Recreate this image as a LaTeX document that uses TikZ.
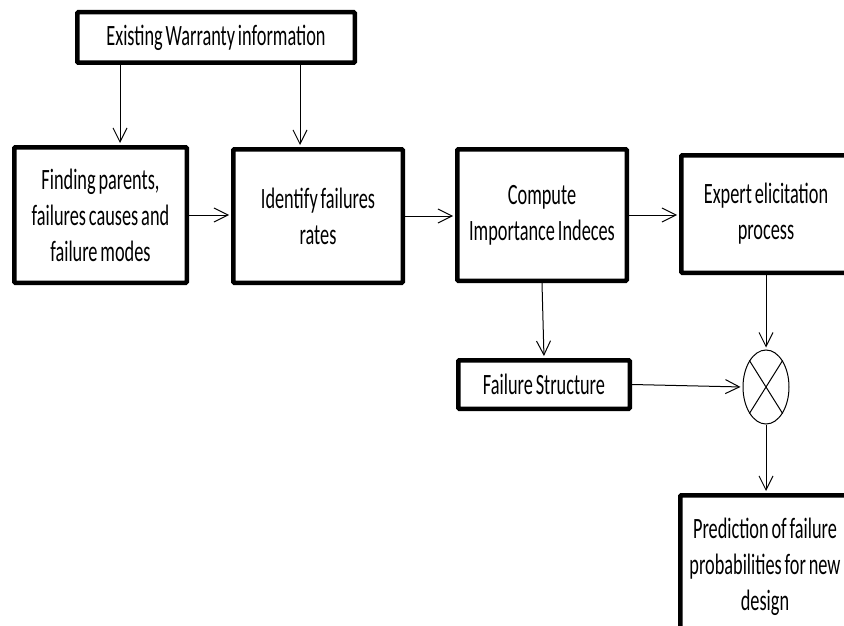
\documentclass[tikz,border=0pt]{standalone}
\usepackage{fontspec}
\setmainfont[FakeStretch=0.62,WordSpace=0.7]{Carlito}
\usetikzlibrary{arrows.meta,shapes.geometric}
\begin{document}
\begin{tikzpicture}[x=1pt,y=-1pt,
  block/.style={draw, line width=4.5pt, rounded corners=1pt, align=center, inner sep=0pt,
    font=\fontsize{29.5}{36}\selectfont},
  flow/.style={line width=1pt, shorten >=2pt,
    -{Straight Barb[length=14pt,width=14pt,line width=1pt]}},
  mixer/.style={draw, ellipse, line width=1pt, inner sep=0pt,
    minimum width=46pt, minimum height=74pt}]
\useasboundingbox (0,0) rectangle (844,626);
\clip (0,0) rectangle (844,626);

% process blocks
\node[block, minimum width=277.5pt, minimum height=50.5pt] (warr) at (216,37.5)
  {Existing Warranty information};
\node[block, minimum width=172.5pt, minimum height=135.5pt] (find) at (100.5,215)
  {Finding parents,\\failures causes and\\failure modes};
\node[block, minimum width=169.5pt, minimum height=133.5pt] (ident) at (318,216)
  {Identify failures\\rates};
\node[block, minimum width=169.5pt, minimum height=131.5pt] (comp) at (542,215)
  {Compute\\Importance Indeces};
\node[block, minimum width=169.5pt, minimum height=117.5pt] (expert) at (766,214)
  {Expert elicitation\\process};
\node[block, minimum width=171.5pt, minimum height=48.5pt] (fstruct) at (544,384.5)
  {Failure Structure};
\node[block, minimum width=169.5pt, minimum height=143.5pt] (pred) at (765,567)
  {Prediction of failure\\probabilities for new\\design};

% combining junction
\node[mixer] (mix) at (766,387) {};
\draw[line width=1pt] (mix.north west) -- (mix.south east)
                      (mix.north east) -- (mix.south west);

% connectors
\draw[flow] ([xshift=19.5pt]find.north |- warr.south) -- ([xshift=19.5pt]find.north);
\draw[flow] ([xshift=-18pt]ident.north |- warr.south) -- ([xshift=-18pt]ident.north);
\draw[flow] (find.east) -- (ident.west |- find.east);
\draw[flow] (ident.east) -- (comp.west |- ident.east);
\draw[flow] (comp.east) -- (expert.west |- comp.east);
\draw[flow] (comp.south) -- (fstruct.north);
\draw[flow] (expert.south) -- (mix.north);
\draw[flow] (fstruct.east) -- (mix.west);
\draw[flow] (mix.south) -- (mix.south |- pred.north);
\end{tikzpicture}
\end{document}
